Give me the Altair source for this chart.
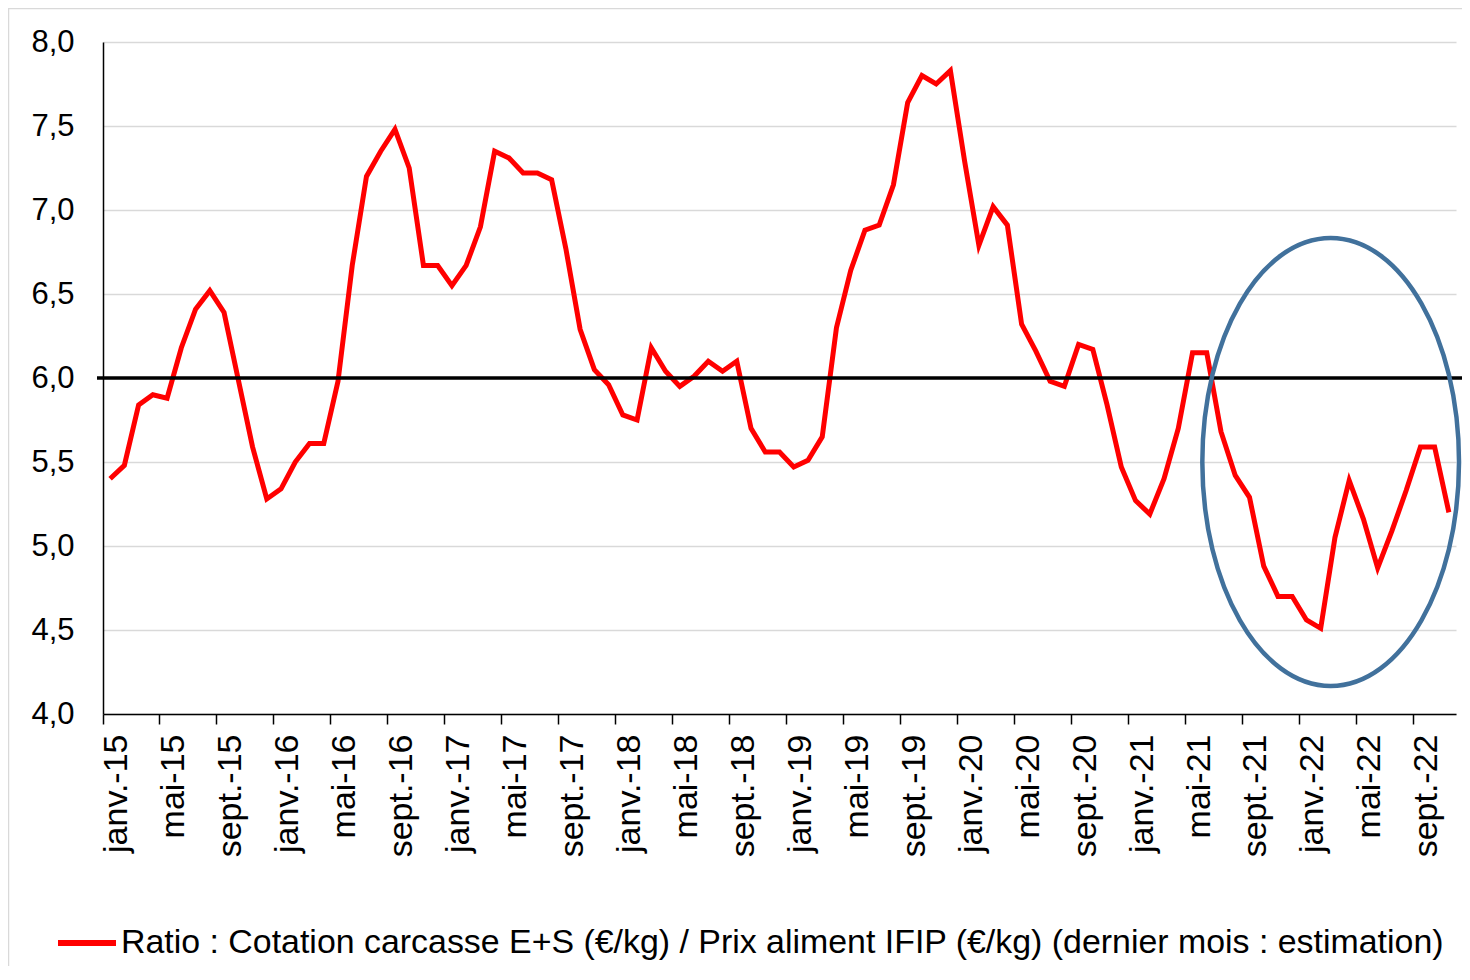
import altair as alt
import pandas as pd

FONT = "Liberation Sans"

month_names = ["janv.", "févr.", "mars", "avr.", "mai", "juin",
               "juil.", "août", "sept.", "oct.", "nov.", "déc."]
years = ["15", "16", "17", "18", "19", "20", "21", "22"]
months = [f"{m}-{y}" for y in years for m in month_names][:95]  # janv.-15 .. nov.-22
tick_months = months[::4]  # janv., mai, sept.

ratio = [5.40, 5.48, 5.84, 5.90, 5.88, 6.18, 6.41, 6.52, 6.39, 5.99,
         5.59, 5.28, 5.34, 5.50, 5.61, 5.61, 5.98, 6.67, 7.20, 7.35,
         7.48, 7.25, 6.67, 6.67, 6.55, 6.67, 6.90, 7.35, 7.31, 7.22,
         7.22, 7.18, 6.77, 6.29, 6.05, 5.96, 5.78, 5.75, 6.18, 6.04,
         5.95, 6.01, 6.10, 6.04, 6.10, 5.70, 5.56, 5.56, 5.47, 5.51,
         5.65, 6.30, 6.64, 6.88, 6.91, 7.15, 7.64, 7.80, 7.75, 7.83,
         7.29, 6.79, 7.02, 6.91, 6.32, 6.16, 5.98, 5.95, 6.20, 6.17,
         5.84, 5.47, 5.27, 5.19, 5.40, 5.70, 6.15, 6.15, 5.68, 5.42,
         5.29, 4.88, 4.70, 4.70, 4.56, 4.51, 5.05, 5.39, 5.16, 4.87,
         5.09, 5.33, 5.59, 5.59, 5.20]

y_ticks = [4.0, 4.5, 5.0, 5.5, 6.0, 6.5, 7.0, 7.5, 8.0]
seuil = 6.0
legend_label = "Ratio : Cotation carcasse E+S (€/kg) / Prix aliment IFIP (€/kg) (dernier mois : estimation)"

# highlight ellipse (annotation) centre
ellipse_month = "mars-22"
ellipse_value = 5.5

df = pd.DataFrame({"mois": months, "ratio": ratio, "serie": [legend_label] * len(months)})
one = pd.DataFrame({"k": [0]})

W, H = 1353, 672

x_scale = alt.Scale(type="band", domain=months, paddingInner=0, paddingOuter=0)
y_scale = alt.Scale(domain=[4, 8], nice=False, zero=False)

frame = alt.Chart(one).mark_rect(fill=None, stroke="#d9d9d9", strokeWidth=1.5).encode(
    x=alt.value(-94.5), x2=alt.value(3000), y=alt.value(-33.5), y2=alt.value(3000)
)

line = alt.Chart(df).mark_line(strokeWidth=5, strokeJoin="miter").encode(
    x=alt.X("mois:N", sort=months, title=None, scale=x_scale, bandPosition=0.5,
            axis=alt.Axis(values=tick_months, bandPosition=0, labelOffset=7,
                          labelAngle=-90, labelFontSize=34, labelFont=FONT,
                          labelColor="black", tickColor="black", tickSize=10,
                          tickWidth=1.5, domainColor="black", domainWidth=1.5,
                          labelPadding=10, labelOverlap=False, labelBound=False,
                          grid=False)),
    y=alt.Y("ratio:Q", title=None, scale=y_scale,
            axis=alt.Axis(values=y_ticks,
                          labelExpr="replace(format(datum.value, '.1f'), '.', ',')",
                          labelFontSize=31, labelFont=FONT, labelColor="black",
                          ticks=False, tickSize=0, labelPadding=29,
                          domainColor="black", domainWidth=1.5,
                          gridColor="#d9d9d9", gridWidth=1.5)),
    color=alt.Color("serie:N", scale=alt.Scale(range=["#FF0000"]),
                    legend=alt.Legend(title=None, orient="none", legendX=-48, legendY=869,
                                      symbolType="stroke", symbolSize=3364,
                                      symbolStrokeWidth=6, labelFontSize=33.9,
                                      labelFont=FONT, labelColor="black",
                                      labelLimit=0, labelOffset=2, padding=0)),
)

rule = alt.Chart(one).mark_rule(color="black", strokeWidth=3.5).encode(
    y=alt.datum(seuil), x=alt.value(-6), x2=alt.value(1365)
)

ellipse_path = "M -0.573 0 A 0.573 1 0 1 0 0.573 0 A 0.573 1 0 1 0 -0.573 0 Z"
ellipse = alt.Chart(one).mark_point(
    shape=ellipse_path, size=448 * 448, filled=False, stroke="#41719C",
    strokeWidth=4.5, opacity=1
).encode(
    x=alt.XDatum(ellipse_month, bandPosition=0.2),
    y=alt.datum(ellipse_value),
)

chart = alt.layer(frame, line, rule, ellipse).properties(
    width=W, height=H,
    padding={"left": 95, "top": 34, "right": 6, "bottom": 252},
    autosize=alt.AutoSizeParams(type="none"),
    background="white",
).configure(font=FONT).configure_view(stroke=None)

chart.save("out.html", embed_options={"renderer": "svg", "actions": False})
